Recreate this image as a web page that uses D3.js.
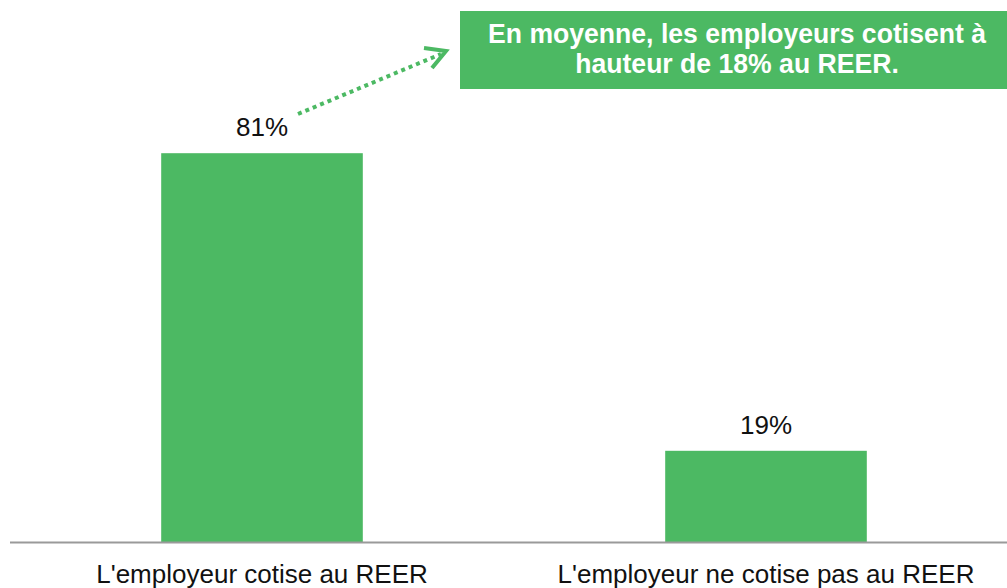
<!DOCTYPE html>
<html><head><meta charset="utf-8">
<script src="https://cdn.jsdelivr.net/npm/d3@7"></script>
<style>html,body{margin:0;padding:0;background:#fff;}svg{display:block;}</style>
</head><body>
<svg id="c" width="1007" height="588"></svg>
<script>
const categories = ["L'employeur cotise au REER", "L'employeur ne cotise pas au REER"];
const values = [0.81, 0.19];
const valueLabels = ["81%", "19%"];
const calloutLines = ["En moyenne, les employeurs cotisent à", "hauteur de 18% au REER."];

const W = 1007, H = 588;
const green = "#4CB963";
const font = "Liberation Sans, Arial, sans-serif";
const svg = d3.select("#c");

const x = d3.scaleBand().domain(categories).range([10, 1018]).paddingInner(0.6).paddingOuter(0.3);
const y = d3.scaleLinear().domain([0, 1]).range([542, 62]);

svg.selectAll("rect.bar").data(values).join("rect")
  .attr("class","bar")
  .attr("x",(d,i)=>x(categories[i]))
  .attr("width",x.bandwidth())
  .attr("y",d=>y(d))
  .attr("height",d=>y(0)-y(d))
  .attr("fill",green);

// axis
const ax = svg.append("g").attr("transform",`translate(0,${y(0)})`)
  .call(d3.axisBottom(x).tickSize(0).tickPadding(0));
ax.select(".domain").attr("d","M10,0.5H1007").attr("stroke","#9a9a9a").attr("stroke-width",2);
ax.selectAll(".tick text").attr("y",41).attr("dy",0)
  .attr("font-family",font).attr("font-size",26).attr("fill","#111");

svg.selectAll("text.vl").data(values).join("text")
  .attr("class","vl")
  .attr("x",(d,i)=>x(categories[i])+x.bandwidth()/2)
  .attr("y",d=>y(d)-17)
  .attr("text-anchor","middle")
  .attr("font-family",font).attr("font-size",26).attr("fill","#111")
  .text((d,i)=>valueLabels[i]);

// callout
svg.append("rect").attr("x",460).attr("y",11).attr("width",W-460).attr("height",78).attr("fill",green);
svg.selectAll("text.co").data(calloutLines).join("text")
  .attr("class","co")
  .attr("transform",(d,i)=>`translate(737,${43+i*30}) scale(0.95,1)`)
  .attr("text-anchor","middle")
  .attr("font-family",font).attr("font-size",28).attr("font-weight","bold").attr("fill","#fff")
  .text(d=>d);

// arrow
svg.append("line").attr("x1",298).attr("y1",114).attr("x2",441).attr("y2",54)
  .attr("stroke",green).attr("stroke-width",4).attr("stroke-dasharray","4,4");
svg.append("path").attr("d","M424,48 L446,51 L432,68")
  .attr("fill","none").attr("stroke",green).attr("stroke-width",4).attr("stroke-linejoin","miter");
</script>
</body></html>
